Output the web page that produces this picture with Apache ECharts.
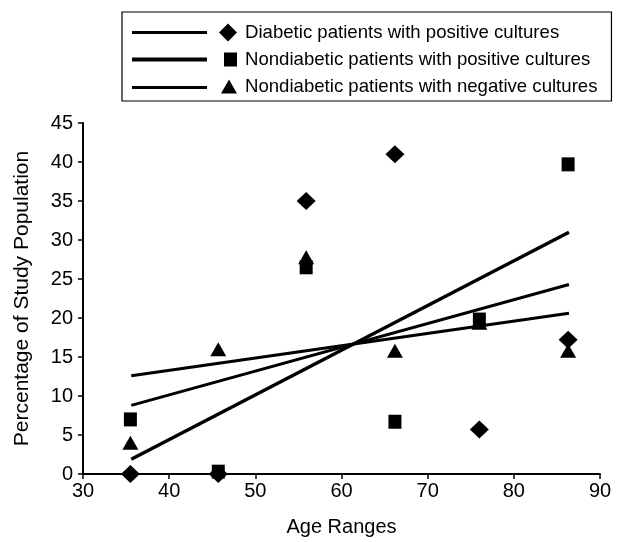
<!DOCTYPE html>
<html>
<head>
<meta charset="utf-8">
<script src="https://cdn.jsdelivr.net/npm/echarts@6/dist/echarts.min.js"></script>
<style>html,body{margin:0;padding:0;background:#fff}#c{width:619px;height:542px}</style>
</head>
<body>
<div id="c"></div>
<script>
// Data
var seriesNames = [
  'Diabetic patients with positive cultures',
  'Nondiabetic patients with positive cultures',
  'Nondiabetic patients with negative cultures'
];
var ageX = [35.5, 45.7, 55.9, 66.2, 76.0, 86.3];
var diabeticPos = [0, 0, 35, 41, 5.7, 17.2];
var nondiabeticPos = [7, 0.3, 26.5, 6.7, 19.8, 39.7];
var nondiabeticNeg = [4, 16, 27.8, 15.8, 19.4, 15.8];
// trend line end points (x at start/end, y values)
var trendX = [35.6, 86.4];
var trendDiabeticPos = [8.8, 24.3];
var trendNondiabeticPos = [1.9, 31.0];
var trendNondiabeticNeg = [12.6, 20.6];
var xTicks = [30, 40, 50, 60, 70, 80, 90];
var yTicks = [0, 5, 10, 15, 20, 25, 30, 35, 40, 45];

function pairs(xs, ys) { return xs.map(function (x, i) { return [x, ys[i]]; }); }

var font = "'Liberation Sans', Arial, sans-serif";
// legend icons: line segment + marker, bounding box width 105
var icons = [
  'path://M0 7.5L75 7.5L75 10.5L0 10.5Z M96 0L105 9L96 18L87 9Z',
  'path://M0 5L75 5L75 9L0 9Z M92 0L105 0L105 14L92 14Z',
  'path://M0 6.5L75 6.5L75 9.5L0 9.5Z M97 0L105 14L89 14Z'
];

var chart = echarts.init(document.getElementById('c'), null, { renderer: 'canvas' });
var option = {
  backgroundColor: '#fff',
  animation: false,
  grid: { left: 83, right: 19, top: 123, bottom: 65, containLabel: false },
  legend: {
    orient: 'vertical',
    left: 122,
    top: 12,
    padding: [11, 14, 5, 10],
    itemGap: 8,
    itemWidth: 105,
    itemHeight: 18,
    symbolKeepAspect: true,
    borderColor: '#000',
    borderWidth: 1.2,
    textStyle: { fontFamily: font, fontSize: 18.6, color: '#000', padding: [0, 0, 0, 3] },
    data: seriesNames.map(function (n, i) { return { name: n, icon: icons[i] }; }),
    selectedMode: false
  },
  xAxis: {
    type: 'value',
    min: 30, max: 90, interval: 10,
    name: 'Age Ranges',
    nameLocation: 'middle',
    nameGap: 43,
    nameTextStyle: { fontFamily: font, fontSize: 20, color: '#000' },
    axisLine: { show: true, onZero: false, lineStyle: { color: '#000', width: 2 } },
    axisTick: { show: true, inside: false, length: 5, lineStyle: { color: '#000', width: 1.5 } },
    axisLabel: {
      fontFamily: font, fontSize: 20, color: '#000', margin: 7,
      formatter: function (v) { return xTicks.indexOf(v) >= 0 ? String(v) : ''; }
    },
    splitLine: { show: false }
  },
  yAxis: {
    type: 'value',
    min: 0, max: 45, interval: 5,
    name: 'Percentage of Study Population',
    nameLocation: 'middle',
    nameGap: 50,
    nameTextStyle: { fontFamily: font, fontSize: 21, color: '#000' },
    axisLine: { show: true, lineStyle: { color: '#000', width: 2 } },
    axisTick: { show: true, inside: false, length: 5, lineStyle: { color: '#000', width: 1.5 } },
    axisLabel: {
      fontFamily: font, fontSize: 20, color: '#000', margin: 10,
      formatter: function (v) { return yTicks.indexOf(v) >= 0 ? String(v) : ''; }
    },
    splitLine: { show: false }
  },
  series: [
    {
      type: 'line', name: 'trend1', data: pairs(trendX, trendDiabeticPos),
      symbol: 'none', lineStyle: { color: '#000', width: 3 }, itemStyle: { color: '#000' }, z: 2, silent: true
    },
    {
      type: 'line', name: 'trend2', data: pairs(trendX, trendNondiabeticPos),
      symbol: 'none', lineStyle: { color: '#000', width: 3.5 }, itemStyle: { color: '#000' }, z: 2, silent: true
    },
    {
      type: 'line', name: 'trend3', data: pairs(trendX, trendNondiabeticNeg),
      symbol: 'none', lineStyle: { color: '#000', width: 3 }, itemStyle: { color: '#000' }, z: 2, silent: true
    },
    {
      type: 'scatter', name: seriesNames[0], data: pairs(ageX, diabeticPos),
      symbol: 'diamond', symbolSize: [19, 18], itemStyle: { color: '#000', opacity: 1 }, z: 4
    },
    {
      type: 'scatter', name: seriesNames[1], data: pairs(ageX, nondiabeticPos),
      symbol: 'rect', symbolSize: [13, 14], itemStyle: { color: '#000', opacity: 1 }, z: 3
    },
    {
      type: 'scatter', name: seriesNames[2], data: pairs(ageX, nondiabeticNeg),
      symbol: 'triangle', symbolSize: [16, 14], itemStyle: { color: '#000', opacity: 1 }, z: 3
    }
  ]
};
chart.setOption(option);
</script>
</body>
</html>
